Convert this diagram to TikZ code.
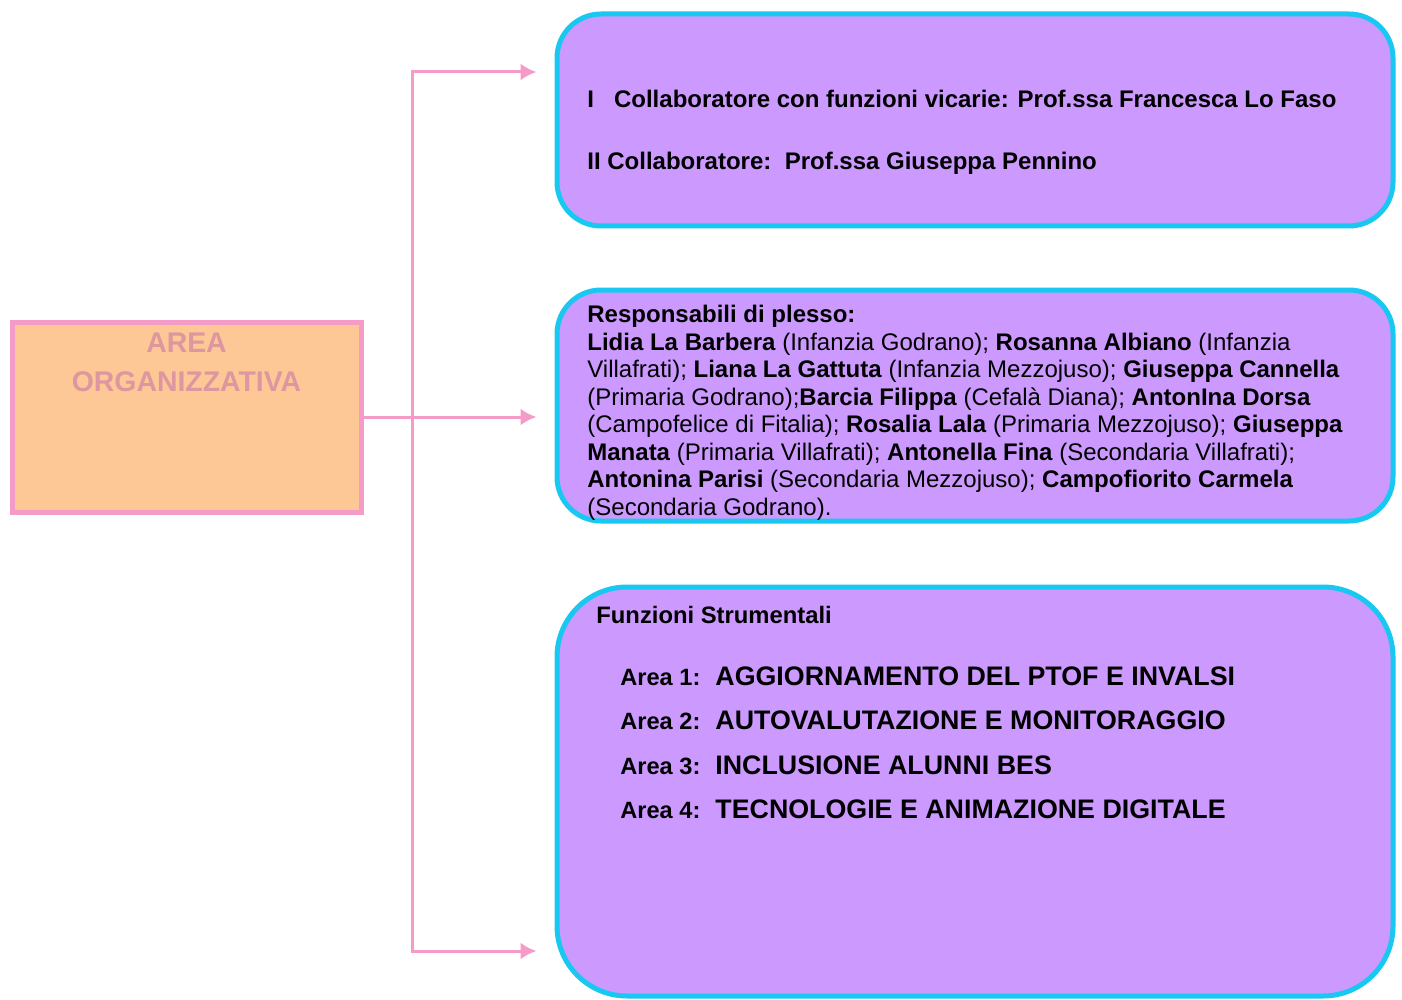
\documentclass[tikz,border=0pt]{standalone}
\usepackage{fontspec}
\setmainfont{Liberation Sans}
\usetikzlibrary{arrows.meta}
\tikzset{>={Latex[length=8pt,width=8.5pt]}}

\definecolor{linkpink}{RGB}{245,155,200}
\definecolor{peach}{RGB}{253,200,150}
\definecolor{duskypink}{RGB}{222,150,160}
\definecolor{boxcyan}{RGB}{25,200,240}
\definecolor{boxviolet}{RGB}{204,153,255}

\begin{document}
\begin{tikzpicture}[x=0.5pt,y=-0.5pt,
    link/.style={draw=linkpink,line width=1.5pt},
    areabox/.style={draw=linkpink,fill=peach,line width=2.5pt,minimum width=174.5pt,minimum height=95pt,inner sep=0},
    purplebox/.style={draw=boxcyan,fill=boxviolet,line width=2.5pt,minimum width=418pt,inner sep=0},
    txt/.style={inner sep=0,anchor=base west,text=black}]
  % frame
  \useasboundingbox (0,0) rectangle (1402,1000);

  % left box
  \node[areabox] (area) at (186.5,417) {};
  \node[inner sep=0,anchor=north,align=center,text=duskypink,
        font=\fontsize{14.2}{19.5}\selectfont\bfseries] (areatxt) at (186.5,333) {AREA\\ORGANIZZATIVA};

  % right boxes
  \node[purplebox,rounded corners=22pt,minimum height=106pt] (b1) at (975,120) {};
  \node[purplebox,rounded corners=22pt,minimum height=115.5pt] (b2) at (975,405.5) {};
  \node[purplebox,rounded corners=35pt,minimum height=204.5pt] (b3) at (975,791.5) {};

  % connectors
  \coordinate (j) at (412,417);
  \coordinate (e1) at (412,72);
  \coordinate (e3) at (412,951);
  \draw[link] (area.east) -- (j);
  \draw[link,->,shorten >=9pt] (j) -- (e1) -- (e1 -| b1.west);
  \draw[link,->,shorten >=9pt] (j) -- (j -| b2.west);
  \draw[link,->,shorten >=9pt] (j) -- (e3) -- (e3 -| b3.west);

  % collaboratori
  \node[txt,font=\fontsize{12}{14}\selectfont\bfseries] (c1) at (587,107.5)
    {I\ \ \ Collaboratore con funzioni vicarie: Prof.ssa Francesca Lo Faso};
  \node[txt,font=\fontsize{12}{14}\selectfont\bfseries] (c2) at (587,169.5)
    {II Collaboratore:\ \ Prof.ssa Giuseppa Pennino};

  % responsabili di plesso
  \node[inner sep=0,anchor=north west,align=left,
        font=\fontsize{12}{13.75}\selectfont] (resp) at (587,305)
    {\textbf{Responsabili di plesso:}\\
     \textbf{Lidia La Barbera} (Infanzia Godrano); \textbf{Rosanna Albiano} (Infanzia\\
     Villafrati); \textbf{Liana La Gattuta} (Infanzia Mezzojuso); \textbf{Giuseppa Cannella}\\
     (Primaria Godrano);\textbf{Barcia Filippa} (Cefalà Diana); \textbf{AntonIna Dorsa}\\
     (Campofelice di Fitalia); \textbf{Rosalia Lala} (Primaria Mezzojuso); \textbf{Giuseppa}\\
     \textbf{Manata} (Primaria Villafrati); \textbf{Antonella Fina} (Secondaria Villafrati);\\
     \textbf{Antonina Parisi} (Secondaria Mezzojuso); \textbf{Campofiorito Carmela}\\
     (Secondaria Godrano).};

  % funzioni strumentali
  \node[txt,font=\fontsize{11.9}{14}\selectfont\bfseries] (fs) at (596,623) {Funzioni Strumentali};
  \foreach \t [count=\i] in {AGGIORNAMENTO DEL PTOF E INVALSI,AUTOVALUTAZIONE E MONITORAGGIO,
                              INCLUSIONE ALUNNI BES,TECNOLOGIE E ANIMAZIONE DIGITALE}{
    \node[txt,font=\fontsize{11.8}{14}\selectfont\bfseries] (arealab\i) at (620,{685+(\i-1)*44.5}) {Area \i:};
    \node[txt,font=\fontsize{13.4}{15}\selectfont\bfseries] (areahead\i) at (715,{685+(\i-1)*44.5}) {\t};
  }
\end{tikzpicture}
\end{document}
